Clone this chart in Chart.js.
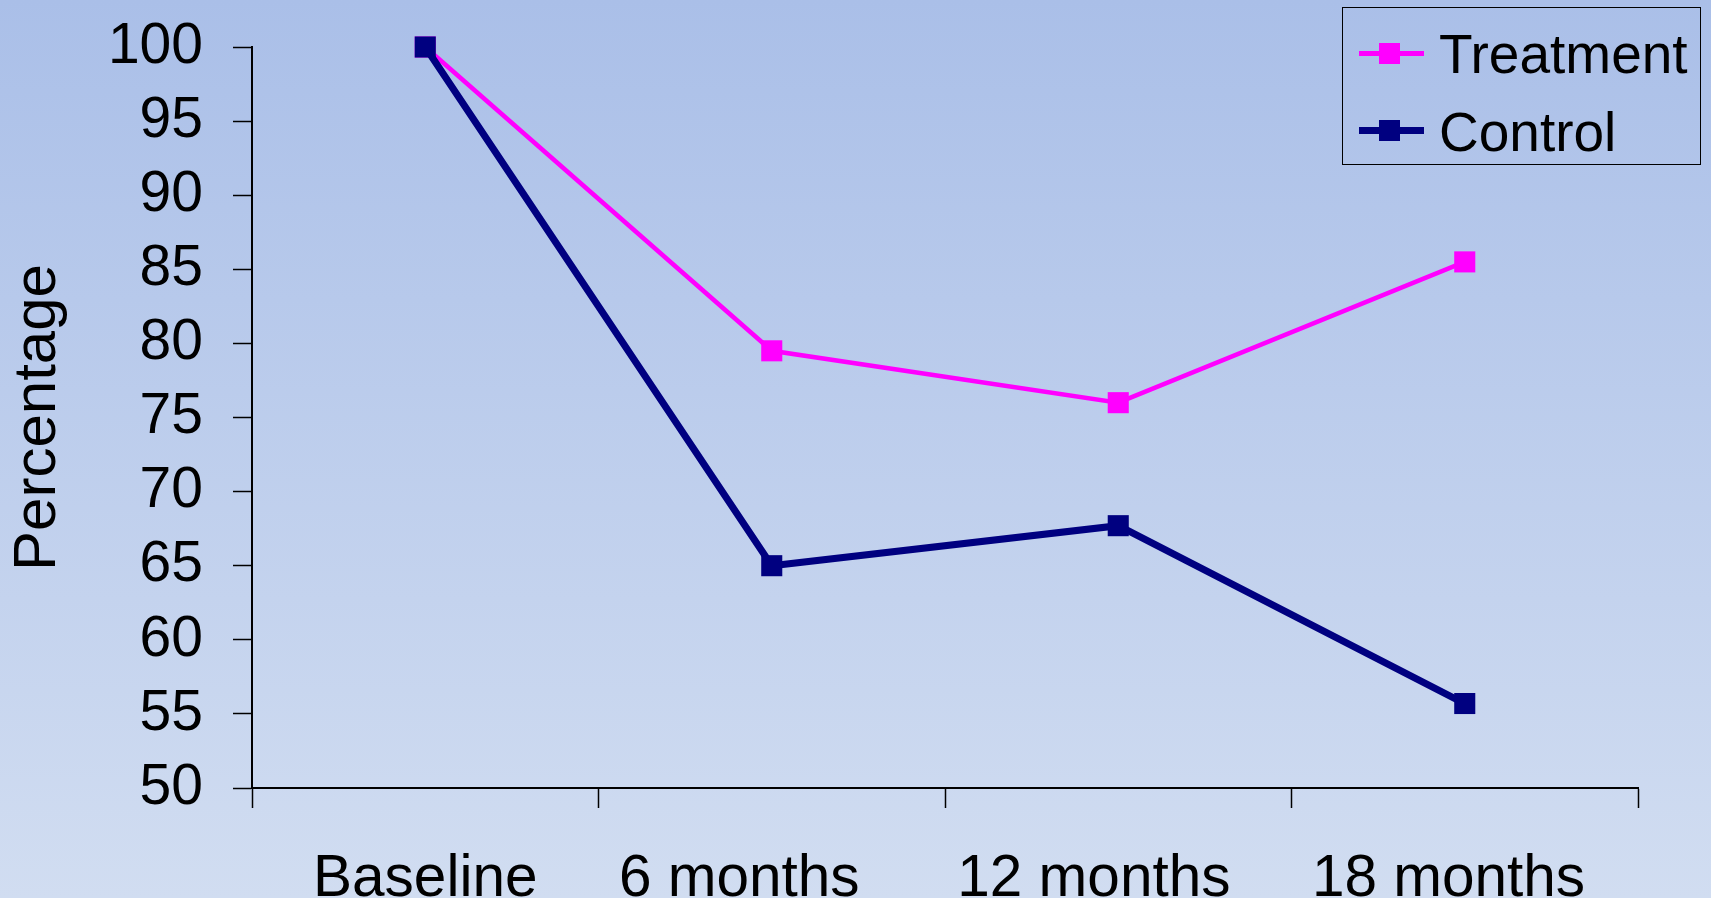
<!DOCTYPE html>
<html>
<head>
<meta charset="utf-8">
<script src="https://cdn.jsdelivr.net/npm/chart.js@4.4.0/dist/chart.umd.min.js"></script>
<style>
  html, body { margin: 0; padding: 0; }
  body { width: 1711px; height: 898px; overflow: hidden; background: linear-gradient(#AABFE8, #D1DDF1); position: relative; font-family: 'Liberation Sans', Arial, sans-serif; }
  #wrap { position: absolute; left: 0; top: 0; width: 1711px; height: 898px; }
  #legend { position: absolute; left: 1342px; top: 7px; width: 357px; height: 156px; border: 1.5px solid #000; }
  .item { position: absolute; left: 0; height: 55px; font-size: 55px; line-height: 55px; color: #000; white-space: nowrap; }
  .icon { position: absolute; left: 16px; width: 65px; }
  .icon .ln { position: absolute; left: 0; width: 65px; }
  .icon .sq { position: absolute; left: 20px; width: 21px; height: 21px; top: -10.5px; }
  .txt { position: absolute; left: 96px; top: 0; }
</style>
</head>
<body>
<div id="wrap"><canvas id="c" width="1711" height="898"></canvas></div>
<div id="legend"></div>
<script>
const categories = ['Baseline', '6 months', '12 months', '18 months'];
const seriesNames = ['Treatment', 'Control'];
const treatmentValues = [100, 79.5, 76.0, 85.5];
const controlValues = [100, 65.0, 67.7, 55.7];
const seriesColors = ['#FF00FF', '#000080'];
const seriesLineWidths = [4.5, 7];
const yTicksMin = 50, yTicksMax = 100, yTicksStep = 5;
// small left nudge of some category labels (in trailing spaces), as in the original slide
const labelNudge = [0, 4, 3, 2];

Chart.defaults.font.family = "'Liberation Sans', Arial, sans-serif";
Chart.defaults.color = '#000';

const seriesValues = [treatmentValues, controlValues];
const datasets = seriesNames.map((name, i) => ({
  label: name,
  data: seriesValues[i],
  borderColor: seriesColors[i],
  backgroundColor: seriesColors[i],
  borderWidth: seriesLineWidths[i],
  pointStyle: 'rect',
  pointRadius: 14.9,
  pointHoverRadius: 14.9,
  pointBorderWidth: 0,
  pointBackgroundColor: seriesColors[i],
  tension: 0,
  clip: false,
  order: seriesNames.length - 1 - i
}));

new Chart(document.getElementById('c'), {
  type: 'line',
  data: { labels: categories, datasets },
  options: {
    responsive: false,
    animation: false,
    devicePixelRatio: 1,
    layout: { padding: { top: 47, right: 73, left: 0, bottom: 0 } },
    plugins: { legend: { display: false }, tooltip: { enabled: false } },
    scales: {
      x: {
        type: 'category',
        offset: true,
        grid: { offset: true, drawOnChartArea: false, drawTicks: true, tickLength: 20, color: '#000', tickWidth: 1.5 },
        border: { display: true, color: '#000', width: 2 },
        ticks: {
          font: { size: 58.5 }, padding: 37, maxRotation: 0, autoSkip: false, color: '#000',
          callback: function (v, i) { return categories[i] + ' '.repeat(labelNudge[i]); }
        },
        afterFit: s => { s.height = 110; s.paddingLeft = 0; s.paddingRight = 0; }
      },
      y: {
        min: yTicksMin, max: yTicksMax,
        grid: { drawOnChartArea: false, drawTicks: true, tickLength: 19, color: '#000', tickWidth: 1.5 },
        border: { display: true, color: '#000', width: 2 },
        ticks: { stepSize: yTicksStep, font: { size: 57 }, padding: 30, color: '#000' },
        title: { display: true, text: 'Percentage', font: { size: 60, lineHeight: 1.0 }, padding: { top: 8, bottom: 0 }, color: '#000' },
        afterFit: s => { s.width = 252; s.paddingTop = 0; s.paddingBottom = 0; }
      }
    }
  }
});

// HTML legend built from the series
const legend = document.getElementById('legend');
const itemTops = [18.5, 96.5];
const iconCenters = [45, 122];
seriesNames.forEach((name, i) => {
  const item = document.createElement('div');
  item.className = 'item';
  item.style.top = itemTops[i] + 'px';
  const icon = document.createElement('div');
  icon.className = 'icon';
  icon.style.top = (iconCenters[i] - itemTops[i]) + 'px';
  const ln = document.createElement('div');
  ln.className = 'ln';
  ln.style.height = Math.round(seriesLineWidths[i]) + 'px';
  ln.style.top = (-Math.round(seriesLineWidths[i]) / 2) + 'px';
  ln.style.background = seriesColors[i];
  const sq = document.createElement('div');
  sq.className = 'sq';
  sq.style.background = seriesColors[i];
  icon.appendChild(ln); icon.appendChild(sq);
  const txt = document.createElement('span');
  txt.className = 'txt';
  txt.textContent = name;
  item.appendChild(icon); item.appendChild(txt);
  legend.appendChild(item);
});
</script>
</body>
</html>
